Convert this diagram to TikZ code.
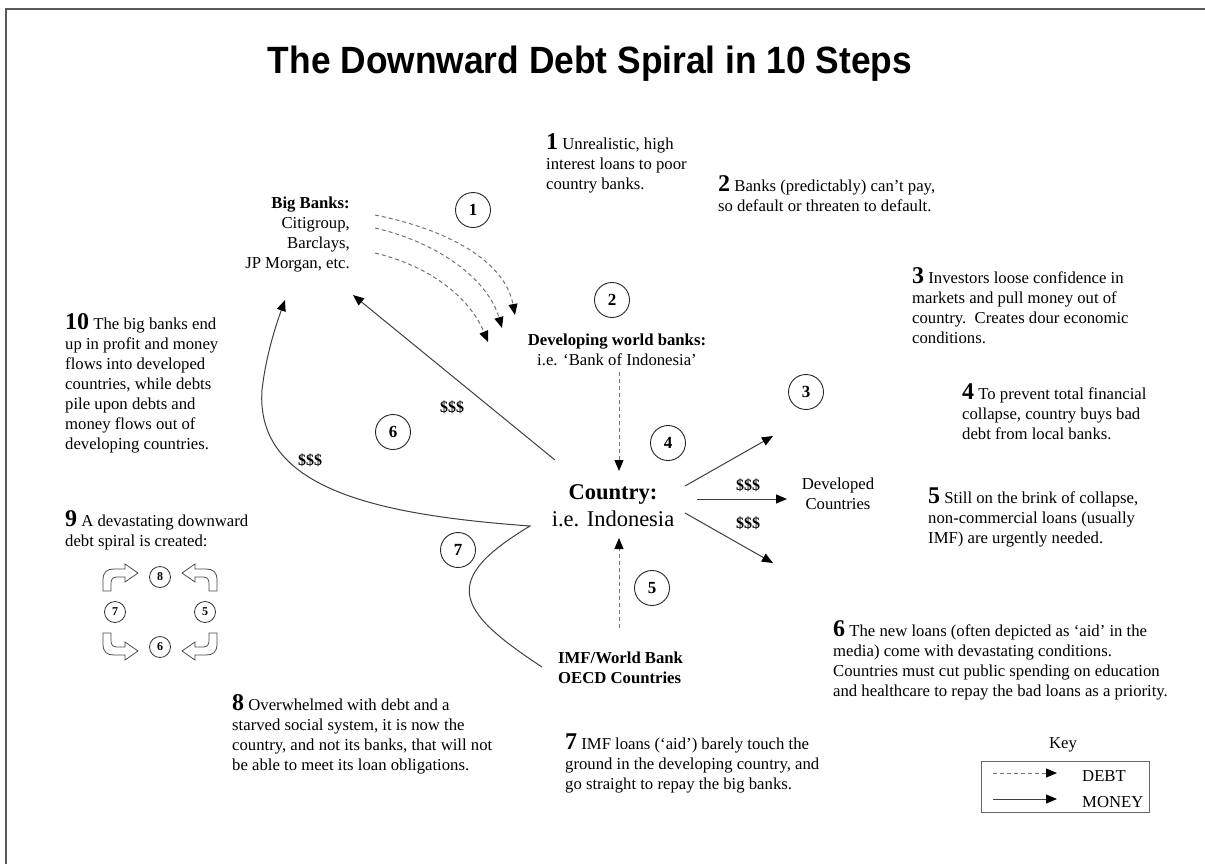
\documentclass[tikz,border=0pt]{standalone}
\usepackage{fontspec}
\setmainfont{Liberation Serif}
\newfontfamily\titlefont{Liberation Sans}
\usetikzlibrary{arrows.meta}
\newcommand{\bodyfs}{\fontsize{16.7}{20}\selectfont}
\newcommand{\bignum}[1]{{\bfseries\fontsize{24}{20}\selectfont #1}}
\tikzset{
  steptext/.style={anchor=north west, inner sep=0pt, align=left, font=\bodyfs},
  lbl/.style={inner sep=0pt, font=\bodyfs},
  numcirc/.style={circle, draw=black!85, line width=0.9pt, minimum size=35pt, inner sep=0pt, font=\bfseries\fontsize{17}{17}\selectfont},
  smallcirc/.style={circle, draw=black!80, line width=0.8pt, minimum size=21pt, inner sep=0pt, font=\bfseries\fontsize{12}{12}\selectfont},
  debtline/.style={draw=black!55, line width=1pt, dash pattern=on 4pt off 3pt, -{Triangle[length=11pt,width=9pt,color=black]}},
  moneyline/.style={draw=black!75, line width=1pt, -{Triangle[length=11pt,width=9pt,color=black]}},
  cash/.style={inner sep=0pt, font=\bfseries\fontsize{16}{16}\selectfont},
  bentarrow/.style={draw=black!70, line width=0.8pt, fill=white},
  frameline/.style={draw=black!65, line width=2pt}
}
\begin{document}
\begin{tikzpicture}[x=1pt,y=-1pt]
\useasboundingbox (0,0) rectangle (1205,863);
\fill[white] (0,0) rectangle (1205,863);
\draw[frameline] (6,880) -- (6,9) -- (1220,9);

% title
\node[anchor=base, inner sep=0pt] (title) at (590,73) {\titlefont\bfseries\fontsize{38}{38}\selectfont\scalebox{0.93}[1]{The Downward Debt Spiral in 10 Steps}};

% step texts
\node[steptext] (s1) at (546,133) {\bignum{1} Unrealistic, high\\interest loans to poor\\country banks.};
\node[steptext] (s2) at (718,175) {\bignum{2} Banks (predictably) can't pay,\\so default or threaten to default.};
\node[steptext] (s3) at (912,267) {\bignum{3} Investors loose confidence in\\markets and pull money out of\\country.\ \ Creates dour economic\\conditions.};
\node[steptext] (s4) at (962,383) {\bignum{4} To prevent total financial\\collapse, country buys bad\\debt from local banks.};
\node[steptext] (s5) at (928,488) {\bignum{5} Still on the brink of collapse,\\non-commercial loans (usually\\IMF) are urgently needed.};
\node[steptext] (s6) at (833,620) {\bignum{6} The new loans (often depicted as `aid' in the\\media) come with devastating conditions.\\Countries must cut public spending on education\\and healthcare to repay the bad loans as a priority.};
\node[steptext] (s7) at (565,734) {\bignum{7} IMF loans (`aid') barely touch the\\ground in the developing country, and\\go straight to repay the big banks.};
\node[steptext] (s8) at (232,694) {\bignum{8} Overwhelmed with debt and a\\starved social system, it is now the\\country, and not its banks, that will not\\be able to meet its loan obligations.};
\node[steptext] (s9) at (65,510) {\bignum{9} A devastating downward\\debt spiral is created:};
\node[steptext] (s10) at (65,313) {\bignum{10} The big banks end\\up in profit and money\\flows into developed\\countries, while debts\\pile upon debts and\\money flows out of\\developing countries.};

% actor labels
\node[lbl, anchor=north east, align=right] (banks) at (350,197) {\textbf{Big Banks:}\\Citigroup,\\Barclays,\\JP Morgan, etc.};
\node[lbl, anchor=north, align=center] (devbanks) at (617,334) {\textbf{Developing world banks:}\\i.e. `Bank of Indonesia'};
\node[inner sep=0pt, anchor=north, align=center, font=\fontsize{22.5}{27}\selectfont] (country) at (613,484) {\textbf{Country:}\\i.e. Indonesia};
\node[lbl, anchor=north west, align=left, font=\bfseries\fontsize{16.7}{19.5}\selectfont] (imf) at (558,652) {IMF/World Bank\\OECD Countries};
\node[lbl, align=center] (developed) at (838,494) {Developed\\Countries};

% numbered circles
\node[numcirc] (c1) at (473,210) {1};
\node[numcirc] (c2) at (612,300) {2};
\node[numcirc] (c3) at (806,392) {3};
\node[numcirc] (c4) at (668,443) {4};
\node[numcirc] (c5) at (652,588) {5};
\node[numcirc] (c6) at (393,432) {6};
\node[numcirc] (c7) at (458,550) {7};

% cash labels
\node[cash] (m1) at (452,407) {\$\$\$};
\node[cash] (m2) at (310,460) {\$\$\$};
\node[cash] (m3) at (748,485) {\$\$\$};
\node[cash] (m4) at (748,523) {\$\$\$};

% coordinates for connector ends
\coordinate (dA0) at (375,215); \coordinate (dA1) at (515,315);
\coordinate (dB0) at (375,228); \coordinate (dB1) at (502,328);
\coordinate (dC0) at (375,253); \coordinate (dC1) at (488,342);
\coordinate (dv0) at (619,372); \coordinate (dv1) at (619,471);
\coordinate (du0) at (619,628); \coordinate (du1) at (619,538);
\coordinate (cb0) at (555,460); \coordinate (cb1) at (353,295);
\coordinate (r10) at (685,486); \coordinate (r11) at (773,436);
\coordinate (r20) at (697,499); \coordinate (r21) at (787,499);
\coordinate (r30) at (685,513); \coordinate (r31) at (773,563);
\coordinate (sp0) at (542,667); \coordinate (spk) at (530,526);
\coordinate (sp1) at (262,390); \coordinate (sp2) at (285,300);

% debt (dashed) arrows
\draw[debtline] (dA0) .. controls (450,230) and (505,262) .. (dA1);
\draw[debtline] (dB0) .. controls (440,243) and (488,280) .. (dB1);
\draw[debtline] (dC0) .. controls (430,266) and (470,298) .. (dC1);
\draw[debtline] (dv0) -- (dv1);
\draw[debtline] (du0) -- (du1);

% money arrows
\draw[moneyline] (cb0) -- (cb1);
\draw[moneyline] (r10) -- (r11);
\draw[moneyline] (r20) -- (r21);
\draw[moneyline] (r30) -- (r31);
\draw[moneyline] (sp0) .. controls (455,610) and (440,580) .. (spk)
   .. controls (380,515) and (255,490) .. (sp1)
   .. controls (266,355) and (276,325) .. (sp2);

% spiral icon
\node[smallcirc] (i8) at (160,577) {8};
\node[smallcirc] (i7) at (115,612) {7};
\node[smallcirc] (i5) at (205,612) {5};
\node[smallcirc] (i6) at (160,647) {6};
\def\bentpath{(0,0) -- (0,-11) .. controls (0,-19) and (4,-22) .. (11,-22) -- (22,-22) -- (22,-27) -- (35,-18) -- (22,-9) -- (22,-14) -- (13,-14) .. controls (10,-14) and (8,-12) .. (8,-9) -- (8,0) -- cycle}
\draw[bentarrow, shift={(103,591)}] \bentpath;
\draw[bentarrow, shift={(217,591)}, xscale=-1] \bentpath;
\draw[bentarrow, shift={(103,633)}, yscale=-1] \bentpath;
\draw[bentarrow, shift={(217,633)}, xscale=-1, yscale=-1] \bentpath;

% key
\node[lbl] (keytitle) at (1063,745) {Key};
\node[draw=black!60, line width=1.3pt, minimum width=168pt, minimum height=51pt, inner sep=0pt, anchor=north west] (keybox) at (981,761) {};
\coordinate (k10) at (993,773); \coordinate (k11) at (1057,773);
\coordinate (k20) at (993,799); \coordinate (k21) at (1057,799);
\draw[debtline] (k10) -- (k11);
\draw[moneyline] (k20) -- (k21);
\node[lbl, anchor=west] (kdebt) at (1082,776) {DEBT};
\node[lbl, anchor=west] (kmoney) at (1082,802) {MONEY};
\end{tikzpicture}
\end{document}
